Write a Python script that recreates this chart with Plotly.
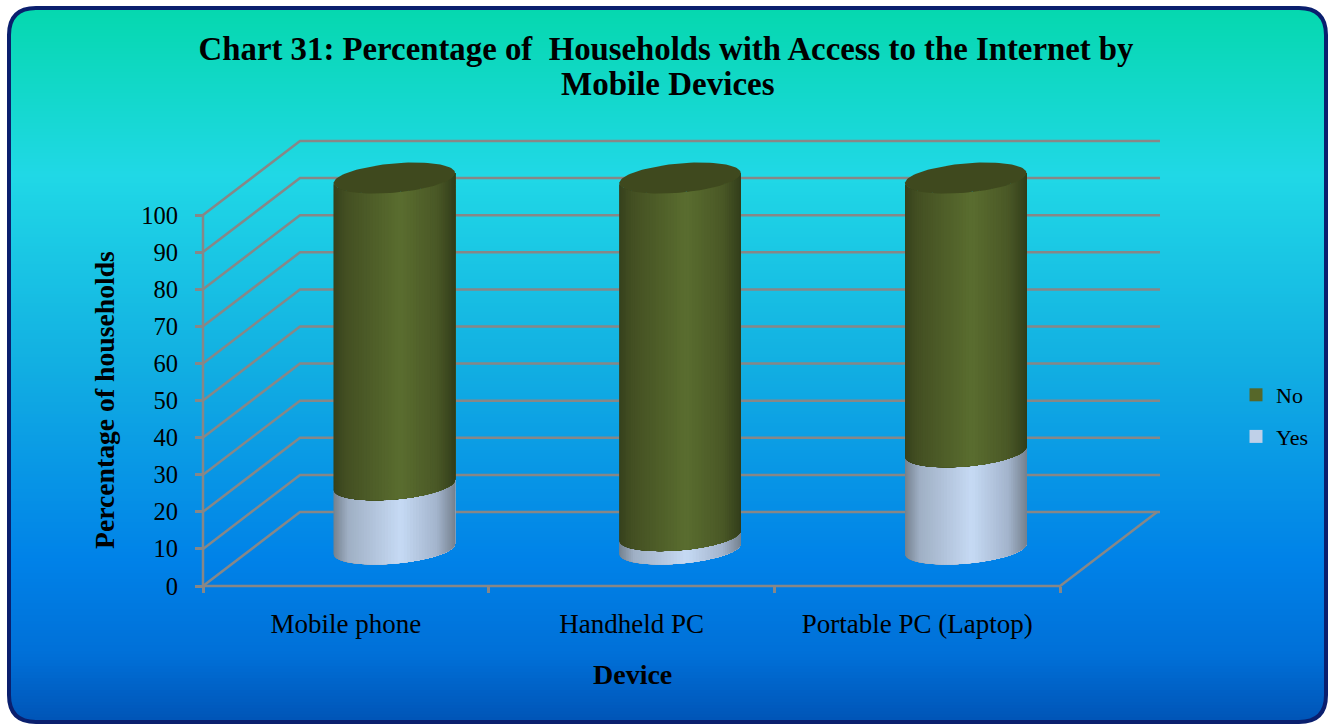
import math
import plotly.graph_objects as go

# Survey results
devices = ["Mobile phone", "Handheld PC", "Portable PC (Laptop)"]
yes_pct = [17.3, 3.6, 26.2]
no_pct = [82.7, 96.4, 73.8]
y_ticks = list(range(0, 101, 10))

# Frame geometry, in pixels
WIDTH, HEIGHT = 1330, 725
ORIGIN_X, ORIGIN_Y = 203, 586
BACK_R, BACK_T = 1160, 141
PAD = 10
PLOT_L, PLOT_R, PLOT_T, PLOT_B = ORIGIN_X - PAD, BACK_R + PAD, BACK_T - PAD, ORIGIN_Y + PAD
CAT_PX = 285.7
UNIT_PX = 3.71

# Oblique depth of the chart box, in axis units
DEPTH_X = 97 / CAT_PX
DEPTH_Y = 74 / UNIT_PX
X_MAX = (BACK_R - ORIGIN_X) / CAT_PX
Y_MAX = (ORIGIN_Y - BACK_T) / UNIT_PX

# Cylinder cross-section: horizontal radius plus the sheared depth component
RADIUS_X = 57.3 / CAT_PX
SHEAR_X = 20.0 / CAT_PX
SHEAR_Y = 15.5 / UNIT_PX
STRIPS = 60

GRID = "#878787"
NO_STOPS = [(0, "#36411d"), (0.1, "#434f22"), (0.55, "#5a6d2f"), (0.85, "#4a5826"), (1, "#333e1b")]
YES_STOPS = [(0, "#75828f"), (0.12, "#9fafc4"), (0.55, "#c6daf4"), (0.85, "#a3b4cc"), (1, "#76828f")]
CAP = "#3f491e"
BG_STOPS = [(0, "#04d8ac"), (0.24, "#20d8e6"), (0.5, "#12afe2"), (0.77, "#0082e8"), (0.9, "#0070d8"), (1, "#0052b4")]
FONT = "Liberation Serif"


def hex_rgb(c):
    return tuple(int(c[i:i + 2], 16) for i in (1, 3, 5))


def ramp(stops, u):
    for (a, ca), (b, cb) in zip(stops, stops[1:]):
        if u <= b:
            f = (u - a) / (b - a)
            r = [round(p + (q - p) * f) for p, q in zip(hex_rgb(ca), hex_rgb(cb))]
            return "rgb({},{},{})".format(*r)
    return stops[-1][1]


def px_x(p):
    return (p - PLOT_L) / (PLOT_R - PLOT_L)


def px_y(p):
    return (PLOT_B - p) / (PLOT_B - PLOT_T)


def ring(cx, level, t):
    """Point on a cylinder cross-section at parameter t."""
    return (cx + RADIUS_X * math.cos(t) + SHEAR_X * math.sin(t),
            level + SHEAR_Y * math.sin(t))


fig = go.Figure()

# Back wall, side wall and floor lines
gx, gy = [], []
for v in y_ticks:
    gx += [0, DEPTH_X, X_MAX, None]
    gy += [v, v + DEPTH_Y, v + DEPTH_Y, None]
gx += [0, 0, None, 0, 3, DEPTH_X + 3, None]
gy += [0, 100, None, 0, 0, DEPTH_Y, None]
fig.add_trace(go.Scatter(x=gx, y=gy, mode="lines", line=dict(color=GRID, width=2.5),
                         hoverinfo="skip", showlegend=False))

# Silhouette tangents: the front arc runs from the left tangent to the right tangent
phi = math.atan2(SHEAR_X, RADIUS_X)
arc = [math.pi + phi + (math.pi * i / STRIPS) for i in range(STRIPS + 1)]
half_span = math.hypot(RADIUS_X, SHEAR_X)


def band(cx, low, high, stops):
    # Each strip reaches the right silhouette and the next one paints over it,
    # which keeps the shading free of seams.
    for i in range(STRIPS):
        tail = arc[i:]
        lower = [ring(cx, low, t) for t in tail]
        upper = [ring(cx, high, t) for t in reversed(tail)]
        outline = lower + upper + lower[:1]
        mid = (lower[0][0] + lower[1][0]) / 2
        u = (mid - (cx - half_span)) / (2 * half_span)
        fig.add_trace(go.Scatter(x=[p[0] for p in outline], y=[p[1] for p in outline],
                                 mode="lines", fill="toself",
                                 fillcolor=ramp(stops, min(max(u, 0), 1)),
                                 line=dict(width=0), hoverinfo="skip", showlegend=False))


for i, name in enumerate(devices):
    cx = i + 0.5 + DEPTH_X / 2
    base = DEPTH_Y / 2
    band(cx, base, base + yes_pct[i], YES_STOPS)
    band(cx, base + yes_pct[i], base + yes_pct[i] + no_pct[i], NO_STOPS)
    top = base + yes_pct[i] + no_pct[i]
    pts = [ring(cx, top, 2 * math.pi * k / 90) for k in range(91)]
    fig.add_trace(go.Scatter(x=[p[0] for p in pts], y=[p[1] for p in pts], mode="lines",
                             fill="toself", fillcolor=CAP, line=dict(width=0),
                             hoverinfo="skip", showlegend=False))

# Legend entries
fig.add_trace(go.Scatter(x=[None], y=[None], mode="markers", name="No", legendgroup="no",
                         marker=dict(symbol="square", size=13, color="#566729")))
fig.add_trace(go.Scatter(x=[None], y=[None], mode="markers", name="Yes", legendgroup="yes",
                         marker=dict(symbol="square", size=13, color="#bfd0e8")))

# Page background: each band runs to the bottom so neighbours cannot show seams
shapes = []
for p in range(0, HEIGHT, 3):
    shapes.append(dict(type="rect", xref="paper", yref="paper", layer="below",
                       x0=px_x(0), x1=px_x(WIDTH), y0=px_y(p), y1=px_y(HEIGHT),
                       fillcolor=ramp(BG_STOPS, p / HEIGHT), line=dict(width=0)))


def rounded(x0, y0, x1, y1, r):
    pts = [("M", x0 + r, y0), ("Q", x0, y0, x0, y0 + r), ("L", x0, y1 - r),
           ("Q", x0, y1, x0 + r, y1), ("L", x1 - r, y1), ("Q", x1, y1, x1, y1 - r),
           ("L", x1, y0 + r), ("Q", x1, y0, x1 - r, y0)]
    out = []
    for seg in pts:
        coords = seg[1:]
        mapped = [px_x(coords[j]) if j % 2 == 0 else px_y(coords[j]) for j in range(len(coords))]
        out.append(seg[0] + " ".join(f"{m:.5f}" for m in mapped))
    return " ".join(out) + " Z"


FX0, FY0, FX1, FY1, FR = 9, 8, 1326, 722, 27
outer = (f"M{px_x(0):.5f} {px_y(0):.5f} L{px_x(WIDTH):.5f} {px_y(0):.5f} "
         f"L{px_x(WIDTH):.5f} {px_y(HEIGHT):.5f} L{px_x(0):.5f} {px_y(HEIGHT):.5f} Z ")
shapes.append(dict(type="path", xref="paper", yref="paper", layer="below",
                   path=outer + rounded(FX0, FY0, FX1, FY1, FR),
                   fillcolor="white", line=dict(width=0)))
shapes.append(dict(type="path", xref="paper", yref="paper", layer="below",
                   path=rounded(FX0, FY0, FX1, FY1, FR),
                   line=dict(color="#0a1f6e", width=4)))

# Second title line and the axis titles sit at fixed spots around the chart box
annotations = [
    dict(text="<b>Mobile Devices</b>", xref="paper", yref="paper", x=px_x(668), y=px_y(84),
         showarrow=False, xanchor="center", yanchor="middle", font=dict(size=33)),
    dict(text="<b>Percentage of households</b>", xref="paper", yref="paper", x=px_x(104), y=px_y(400),
         showarrow=False, textangle=-90, xanchor="center", yanchor="middle", font=dict(size=27.7)),
    dict(text="<b>Device</b>", xref="paper", yref="paper", x=px_x(632), y=px_y(674),
         showarrow=False, xanchor="center", yanchor="middle", font=dict(size=28)),
]

fig.update_layout(
    width=WIDTH, height=HEIGHT,
    margin=dict(l=PLOT_L, r=WIDTH - PLOT_R, t=PLOT_T, b=HEIGHT - PLOT_B),
    paper_bgcolor="white", plot_bgcolor="rgba(0,0,0,0)",
    font=dict(family=FONT, color="black"),
    shapes=shapes, annotations=annotations,
    title=dict(text="<b>Chart 31: Percentage of  Households with Access to the Internet by</b>",
               x=0.5008, xanchor="center", y=0.933, yanchor="middle", yref="container",
               font=dict(size=32.8, family=FONT)),
    xaxis=dict(range=[-PAD / CAT_PX, X_MAX + PAD / CAT_PX], anchor="free", position=px_y(ORIGIN_Y),
               tickmode="array", tickvals=[0.5, 1.5, 2.5], ticktext=devices,
               ticks="", showgrid=False, zeroline=False, showline=False,
               tickfont=dict(size=27), ticklabelstandoff=19,
               minor=dict(tickmode="array", tickvals=[0, 1, 2, 3], ticks="outside", ticklen=6,
                          tickwidth=2.5, tickcolor=GRID, showgrid=False)),
    yaxis=dict(range=[-PAD / UNIT_PX, Y_MAX + PAD / UNIT_PX], anchor="free", position=px_x(ORIGIN_X),
               tickmode="array", tickvals=y_ticks,
               ticks="outside", ticklen=8, tickwidth=2.5, tickcolor=GRID,
               showgrid=False, zeroline=False, showline=False,
               tickfont=dict(size=24.5), ticklabelstandoff=12),
    legend=dict(x=px_x(1236), y=px_y(374), xanchor="left", yanchor="top",
                bgcolor="rgba(0,0,0,0)", font=dict(size=22), tracegroupgap=10, itemclick=False),
)

fig.write_html("out.html")
